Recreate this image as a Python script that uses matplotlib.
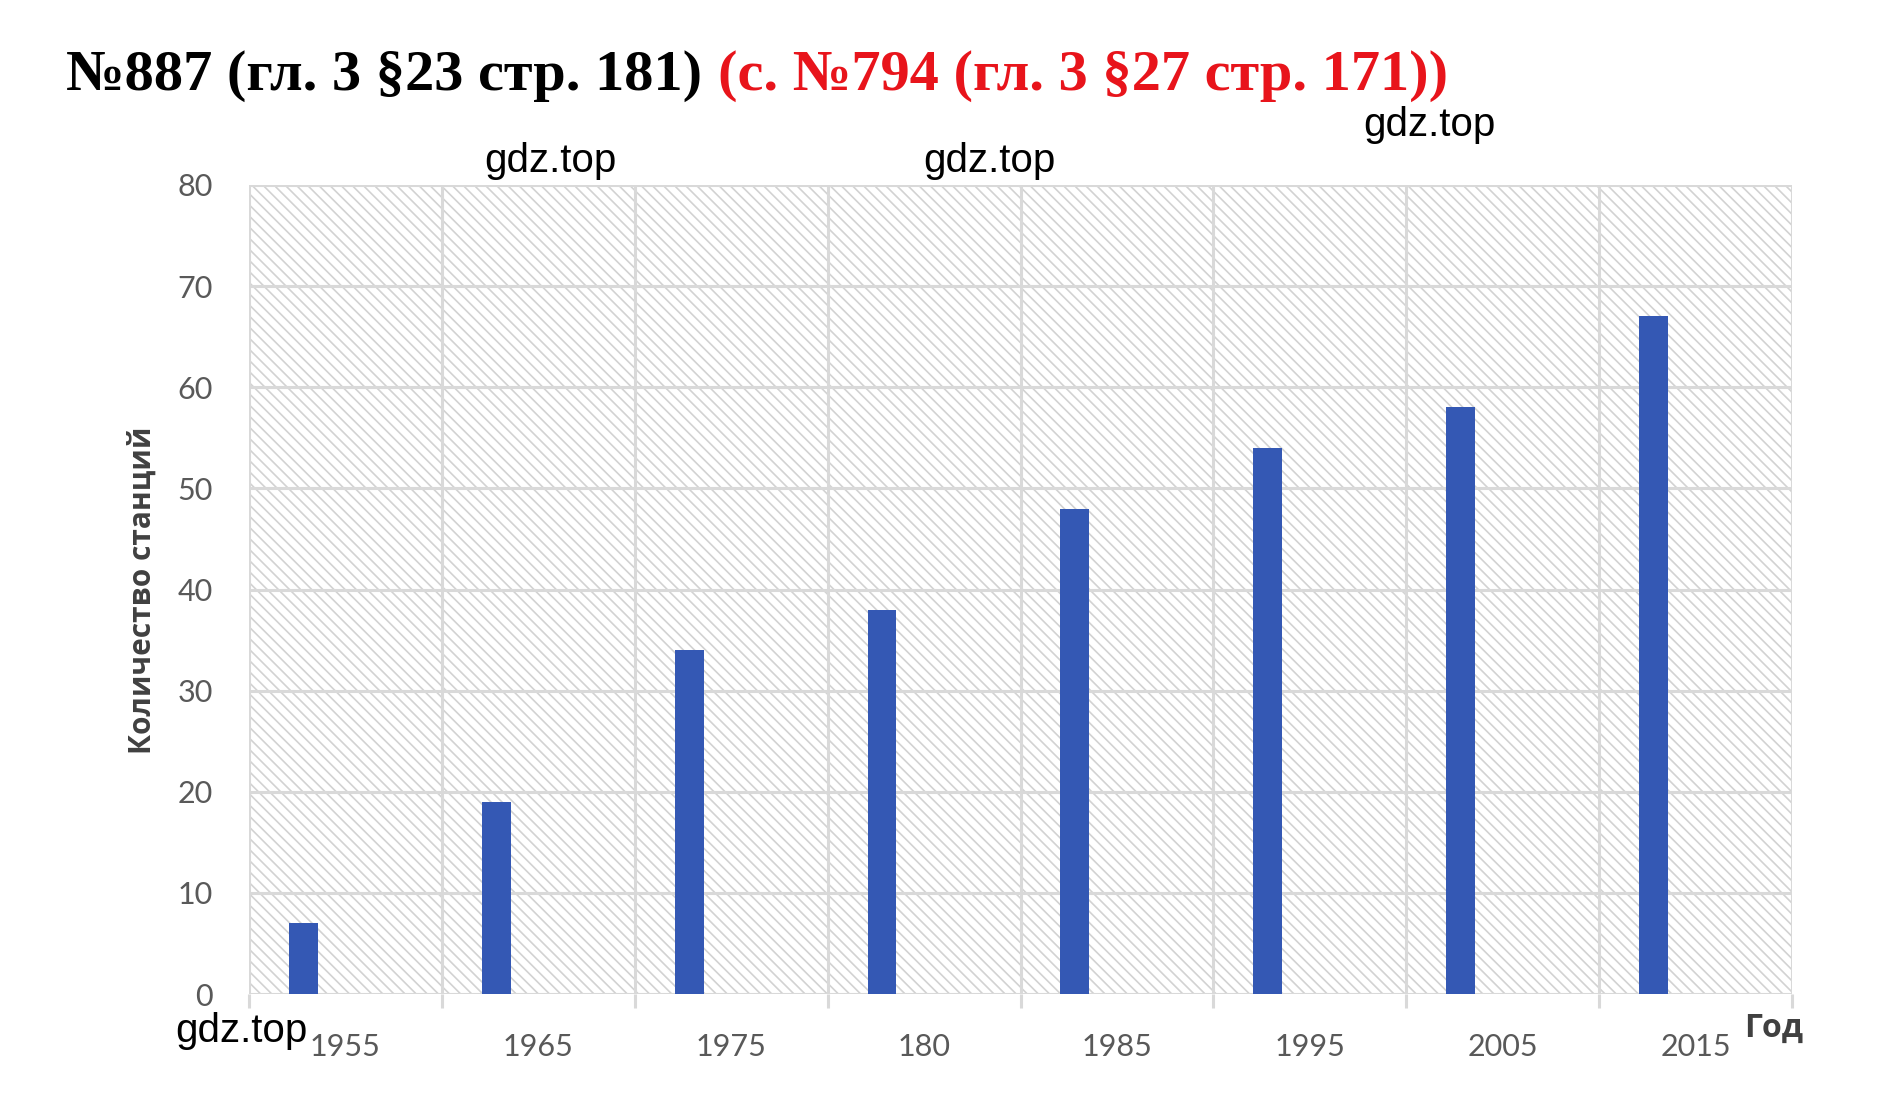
import matplotlib.pyplot as plt
from matplotlib.patches import Rectangle

# data
years = ['1955', '1965', '1975', '180', '1985', '1995', '2005', '2015']
stations = [7, 19, 34, 38, 48, 54, 58, 67]
yticks = [0, 10, 20, 30, 40, 50, 60, 70, 80]

W, H = 1896, 1118
fig = plt.figure(figsize=(W / 100, H / 100), dpi=100)
ax = fig.add_axes([249 / W, 1 - 994 / H, (1792 - 249) / W, (994 - 185) / H])

plt.rcParams['hatch.linewidth'] = 1.2
grid_c = '#d9d9d9'
tick_c = '#595959'

# hatched plot background
bg = Rectangle((0, 0), 1, 1, transform=ax.transAxes, facecolor='white',
               edgecolor='#d2d2d2', hatch='\\\\\\', linewidth=0, zorder=0.1)
ax.add_patch(bg)

x = [i + 0.5 for i in range(len(years))]
ax.bar([v - 0.218 for v in x], stations, width=0.15, color='#3458B4', zorder=3)

ax.set_xlim(0, len(years))
ax.set_ylim(0, 80)
ax.set_yticks(yticks)
ax.set_xticks(x)
ax.set_xticklabels(years)
ax.set_xticks(range(len(years) + 1), minor=True)

for y in yticks:
    ax.axhline(y, color=grid_c, lw=2.2, zorder=1)
for i in range(len(years) + 1):
    ax.axvline(i, color=grid_c, lw=2.2, zorder=1)

for s in ax.spines.values():
    s.set_visible(False)

ax.tick_params(axis='x', which='major', length=0, pad=28, labelsize=22,
               labelcolor=tick_c)
ax.tick_params(axis='x', which='minor', length=10, width=2.2, color=grid_c)
ax.tick_params(axis='y', length=0, pad=26, labelsize=22, labelcolor=tick_c)
for lab in ax.get_xticklabels() + ax.get_yticklabels():
    lab.set_family('Lato')

fig.text(143 / W, 1 - 590 / H, 'Количество станций', rotation=90,
         ha='center', va='center', fontsize=21.5, fontweight='bold',
         color='#404040', family='Open Sans')
fig.text(1774 / W, 1 - 1028 / H, 'Год', ha='center', va='center',
         fontsize=23, fontweight='bold', color='#404040', family='Open Sans')

# title in two colours
fig.text(66 / W, 1 - 76 / H, '№887 (гл. 3 §23 стр. 181)', ha='left',
         va='center', fontsize=42, fontweight='bold', color='black',
         family='Liberation Serif')
fig.text(718 / W, 1 - 76 / H, '(с. №794 (гл. 3 §27 стр. 171))', ha='left',
         va='center', fontsize=42, fontweight='bold', color='#e8141b',
         family='Liberation Serif')

# watermarks
wm = dict(ha='center', va='center', fontsize=29, color='black',
          family=['Liberation Sans Narrow', 'Liberation Sans'])
fig.text(550 / W, 1 - 161 / H, 'gdz.top', **wm)
fig.text(989 / W, 1 - 161 / H, 'gdz.top', **wm)
fig.text(1429 / W, 1 - 125 / H, 'gdz.top', **wm)
fig.text(241 / W, 1 - 1031 / H, 'gdz.top', **wm)

fig.savefig('out.png', dpi=100, facecolor='white')
